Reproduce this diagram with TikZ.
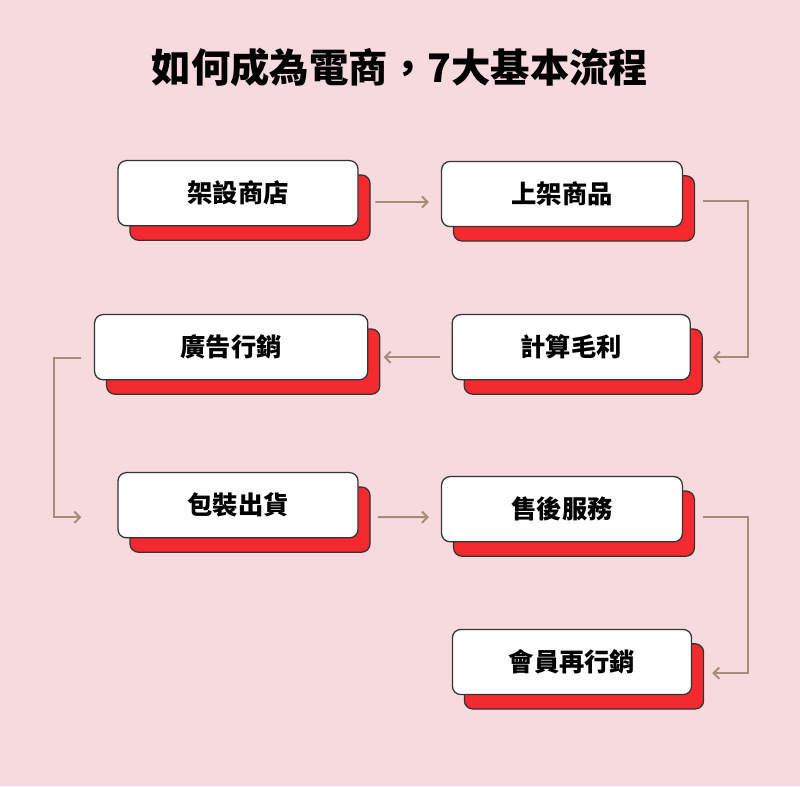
\documentclass[tikz,border=0pt]{standalone}
\usepackage{fontspec}
\setmainfont{Noto Sans CJK TC}
\usepackage{xcolor}
\usepackage{tikz}
\usetikzlibrary{arrows.meta, positioning, calc, shadows}

\definecolor{pagebg}{HTML}{F7DADD}
\definecolor{cardred}{HTML}{F42A30}
\definecolor{flowline}{HTML}{A58C78}

\begin{document}
\begin{tikzpicture}[
    card/.style={rectangle, draw=black!80, fill=white, line width=0.9pt, rounded corners=6pt, align=center, minimum height=1.63cm, minimum width=6.0cm, font=\bfseries\fontsize{18}{20}\selectfont,
        general shadow={fill=cardred, draw=black!80, line width=0.9pt, shadow xshift=0.3cm, shadow yshift=-0.36cm}},
    arrow/.style={-{Straight Barb[length=4pt,width=8pt]}, line width=1.4pt, color=flowline}
]

% Background
\fill[pagebg] (0,0) rectangle (20,-19.65);

% Title
\node (title) at (10.0,-1.68) {\bfseries\fontsize{28}{32}\selectfont 如何成為電商，7大基本流程};

% Nodes
\node (setup) [card] at (5.95,-4.83) {架設商店};
\node (listing) [card, minimum width=6.02cm] at (14.05,-4.85) {上架商品};
\node (pricing) [card, minimum width=5.95cm] at (14.28,-8.68) {計算毛利};
\node (ads) [card, minimum width=6.83cm] at (5.78,-8.68) {廣告行銷};
\node (packing) [card] at (5.95,-12.63) {包裝出貨};
\node (service) [card, minimum width=6.02cm] at (14.05,-12.73) {售後服務};
\node (member) [card, minimum width=5.98cm] at (14.3,-16.55) {會員再行銷};

% Arrows
\draw [arrow] ([xshift=0.42cm,yshift=-0.22cm]setup.east) -- ([xshift=-0.3cm,yshift=-0.2cm]listing.west);
\draw [arrow] ([xshift=0.5cm,yshift=-0.18cm]listing.east) -- ++(1.12cm,0) |- ([xshift=0.55cm,yshift=-0.25cm]pricing.east);
\draw [arrow] ([xshift=-0.3cm,yshift=-0.25cm]pricing.west) -- ([xshift=0.38cm,yshift=-0.25cm]ads.east);
\draw [arrow] ([xshift=-0.33cm,yshift=-0.28cm]ads.west) -- ++(-0.68cm,0) |- ([xshift=-0.9cm,yshift=-0.3cm]packing.west);
\draw [arrow] ([xshift=0.48cm,yshift=-0.3cm]packing.east) -- ([xshift=-0.3cm,yshift=-0.2cm]service.west);
\draw [arrow] ([xshift=0.5cm,yshift=-0.2cm]service.east) -- ++(1.12cm,0) |- ([xshift=0.5cm,yshift=-0.28cm]member.east);

\end{tikzpicture}
\end{document}
